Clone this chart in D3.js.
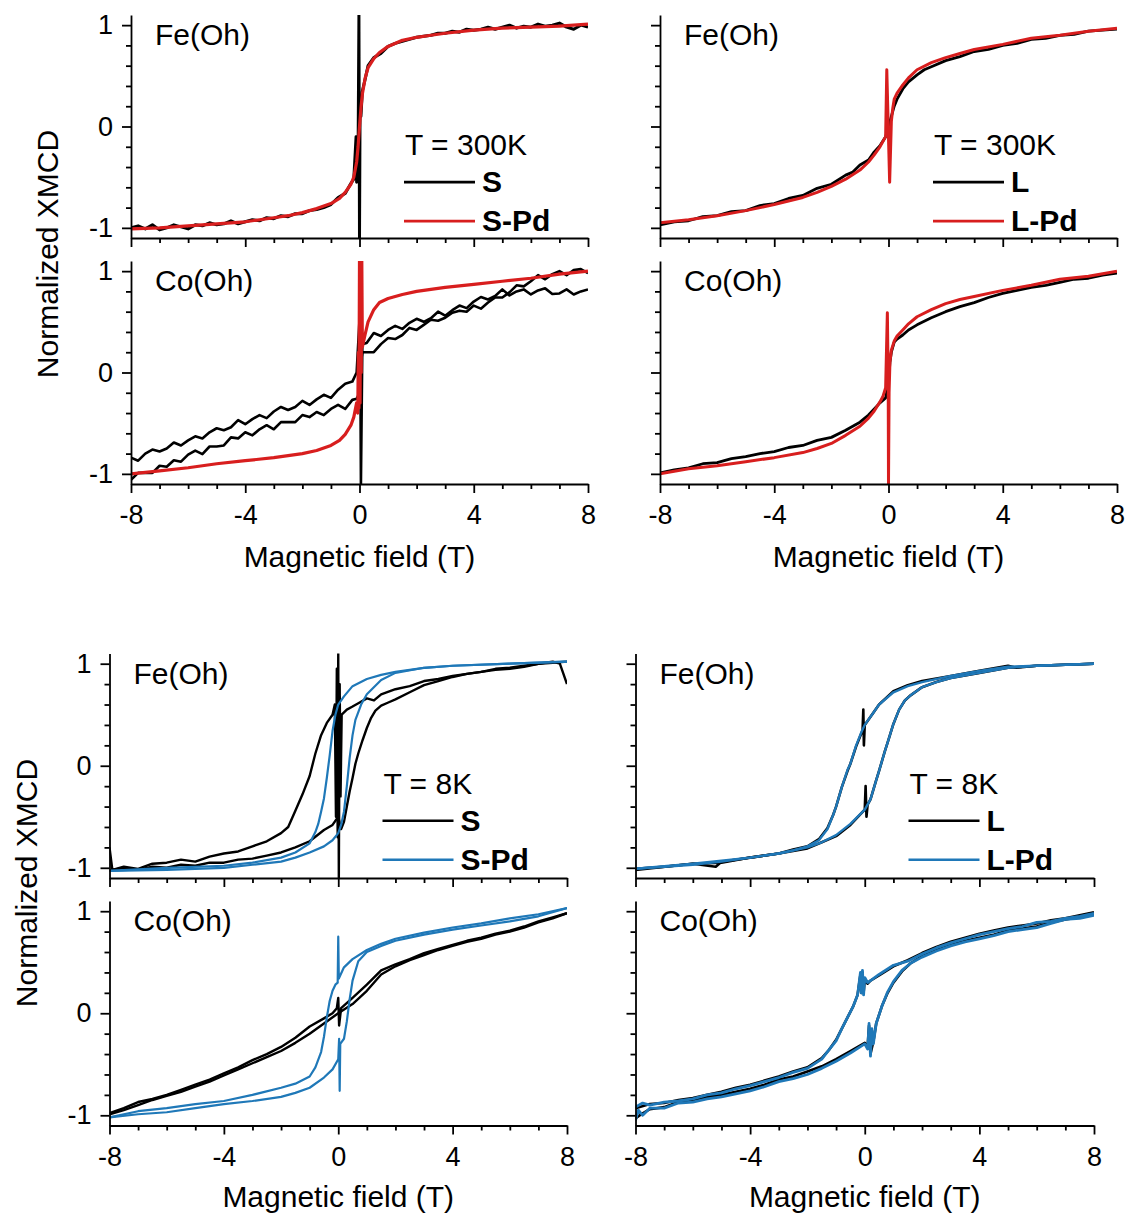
<!DOCTYPE html>
<html><head><meta charset="utf-8">
<script src="https://cdn.jsdelivr.net/npm/d3@7"></script>
<style>body{margin:0;background:#fff}</style>
</head><body><svg id="c" width="1125" height="1219"></svg>
<script>
// ---------------- DATA ----------------
const fieldDomain = [-8, 8];
const xmcdDomain = [-1.1, 1.1];
const fieldTicksMajor = [-8, -4, 0, 4, 8];
const fieldTicksMinor = [-7, -6, -5, -3, -2, -1, 1, 2, 3, 5, 6, 7];
const xmcdTicksMajor = [-1, 0, 1];
const xmcdTicksMinor = [-0.8, -0.6, -0.4, -0.2, 0.2, 0.4, 0.6, 0.8];
const sites = ["Fe(Oh)", "Co(Oh)"];
const temps = ["T = 300K", "T = 8K"];
const samplesS = ["S", "S-Pd"];
const samplesL = ["L", "L-Pd"];
const xLabel = "Magnetic field (T)";
const yLabel = "Normalized XMCD";

// 300 K, Fe, sample S (black) and S-Pd (red)
const fe300_S = [[-8,-1.0],[-7.75,-0.98],[-7.5,-1.01],[-7.25,-0.97],[-7,-1.02],[-6.75,-1.0],[-6.5,-0.97],[-6.25,-0.99],[-6,-1.01],[-5.75,-0.97],[-5.5,-0.98],[-5.25,-0.95],[-5,-0.97],[-4.75,-0.96],[-4.5,-0.93],[-4.25,-0.96],[-4,-0.94],[-3.75,-0.92],[-3.5,-0.93],[-3.25,-0.9],[-3,-0.91],[-2.75,-0.88],[-2.5,-0.89],[-2.25,-0.86],[-2,-0.86],[-1.75,-0.83],[-1.5,-0.82],[-1.25,-0.8],[-1,-0.77],[-0.75,-0.7],[-0.5,-0.66],[-0.3,-0.56],[-0.2,-0.52],[-0.12,-0.1],[-0.1,-0.55],[-0.05,-0.3],[-0.02,1.1],[0,-1.1],[0.02,0.2],[0.05,0.1],[0.1,0.35],[0.2,0.47],[0.3,0.6],[0.5,0.68],[0.75,0.72],[1,0.79],[1.25,0.82],[1.5,0.84],[1.75,0.86],[2,0.88],[2.25,0.89],[2.5,0.9],[2.75,0.92],[3,0.92],[3.25,0.94],[3.5,0.93],[3.75,0.96],[4,0.95],[4.25,0.96],[4.5,0.98],[4.75,0.96],[5,0.98],[5.25,1.0],[5.5,0.97],[5.75,0.99],[6,0.98],[6.25,1.01],[6.5,0.99],[6.75,1.0],[7,1.02],[7.25,0.98],[7.5,0.96],[7.75,1.0],[8,0.98]];
const fe300_SPd = [[-8,-1.01],[-7,-1.0],[-6,-0.98],[-5,-0.96],[-4,-0.94],[-3,-0.9],[-2.5,-0.88],[-2,-0.85],[-1.5,-0.81],[-1,-0.76],[-0.7,-0.71],[-0.5,-0.65],[-0.3,-0.57],[-0.2,-0.5],[-0.1,-0.35],[-0.05,-0.2],[0,0],[0.05,0.18],[0.1,0.32],[0.2,0.48],[0.3,0.58],[0.5,0.67],[0.7,0.73],[1,0.79],[1.5,0.85],[2,0.88],[2.5,0.9],[3,0.92],[4,0.95],[5,0.97],[6,0.98],[7,0.99],[8,1.01]];

// 300 K, Co, sample S (black, two sweeps) and S-Pd (red)
const co300_S1 = [[-8,-0.84],[-7.75,-0.87],[-7.5,-0.8],[-7.25,-0.76],[-7,-0.78],[-6.75,-0.75],[-6.5,-0.69],[-6.25,-0.72],[-6,-0.67],[-5.75,-0.63],[-5.5,-0.65],[-5.25,-0.59],[-5,-0.55],[-4.75,-0.57],[-4.5,-0.54],[-4.25,-0.47],[-4,-0.51],[-3.75,-0.46],[-3.5,-0.42],[-3.25,-0.45],[-3,-0.385],[-2.75,-0.34],[-2.5,-0.37],[-2.25,-0.34],[-2,-0.28],[-1.75,-0.32],[-1.5,-0.265],[-1.25,-0.22],[-1,-0.25],[-0.75,-0.17],[-0.5,-0.11],[-0.25,-0.09],[-0.1,0.0],[0.02,0.62],[0.05,-1.1],[0.1,0.28],[0.25,0.29],[0.5,0.39],[0.75,0.36],[1,0.42],[1.25,0.46],[1.5,0.43],[1.75,0.49],[2,0.53],[2.25,0.5],[2.5,0.535],[2.75,0.6],[3,0.56],[3.25,0.615],[3.5,0.66],[3.75,0.635],[4,0.7],[4.25,0.745],[4.5,0.72],[4.75,0.755],[5,0.82],[5.25,0.76],[5.5,0.8],[5.75,0.82],[6,0.77],[6.25,0.81],[6.5,0.83],[6.75,0.775],[7,0.78],[7.25,0.82],[7.5,0.77],[7.75,0.8],[8,0.82]];
const co300_S2 = [[-8,-1.06],[-7.75,-0.99],[-7.5,-0.99],[-7.25,-0.99],[-7,-0.92],[-6.75,-0.93],[-6.5,-0.865],[-6.25,-0.88],[-6,-0.81],[-5.75,-0.77],[-5.5,-0.805],[-5.25,-0.73],[-5,-0.73],[-4.75,-0.72],[-4.5,-0.64],[-4.25,-0.65],[-4,-0.59],[-3.75,-0.62],[-3.5,-0.56],[-3.25,-0.52],[-3,-0.56],[-2.75,-0.49],[-2.5,-0.49],[-2.25,-0.49],[-2,-0.42],[-1.75,-0.44],[-1.5,-0.39],[-1.25,-0.42],[-1,-0.36],[-0.75,-0.32],[-0.5,-0.36],[-0.25,-0.27],[-0.1,-0.26],[0,-0.2],[0.05,0.1],[0.1,0.2],[0.25,0.2],[0.5,0.2],[0.75,0.28],[1,0.34],[1.25,0.33],[1.5,0.37],[1.75,0.44],[2,0.42],[2.25,0.47],[2.5,0.52],[2.75,0.51],[3,0.54],[3.25,0.59],[3.5,0.61],[3.75,0.6],[4,0.66],[4.25,0.63],[4.5,0.69],[4.75,0.74],[5,0.74],[5.25,0.79],[5.5,0.86],[5.75,0.85],[6,0.9],[6.25,0.96],[6.5,0.92],[6.75,0.97],[7,1.0],[7.25,0.96],[7.5,1.01],[7.75,1.02],[8,0.98]];
const co300_SPd = [[-8,-1.0],[-7,-0.97],[-6,-0.94],[-5,-0.9],[-4,-0.87],[-3,-0.84],[-2,-0.8],[-1.5,-0.77],[-1,-0.72],[-0.7,-0.67],[-0.5,-0.61],[-0.3,-0.52],[-0.2,-0.44],[-0.1,-0.3],[-0.06,-0.4],[-0.04,0.2],[-0.02,-0.35],[0,1.1],[0.02,-0.3],[0.04,1.1],[0.06,0.0],[0.08,1.1],[0.1,0.25],[0.2,0.38],[0.3,0.5],[0.5,0.62],[0.7,0.69],[1,0.73],[1.5,0.77],[2,0.8],[3,0.84],[4,0.87],[5,0.9],[6,0.93],[7,0.97],[8,1.0]];

// 300 K, Fe, sample L (black) and L-Pd (red)
const fe300_L = [[-8,-0.97],[-7.5,-0.94],[-7,-0.93],[-6.5,-0.89],[-6,-0.88],[-5.5,-0.84],[-5,-0.83],[-4.5,-0.78],[-4,-0.76],[-3.5,-0.71],[-3,-0.68],[-2.5,-0.61],[-2,-0.57],[-1.5,-0.48],[-1.25,-0.45],[-1,-0.38],[-0.7,-0.33],[-0.5,-0.25],[-0.3,-0.19],[-0.1,-0.1],[0,0.0],[0.1,0.1],[0.2,0.2],[0.3,0.27],[0.5,0.37],[0.7,0.44],[1,0.51],[1.25,0.56],[1.5,0.59],[2,0.65],[2.5,0.69],[3,0.74],[3.5,0.76],[4,0.8],[4.5,0.82],[5,0.86],[5.5,0.87],[6,0.9],[6.5,0.91],[7,0.94],[7.5,0.95],[8,0.96]];
const fe300_LPd = [[-8,-0.95],[-7,-0.92],[-6,-0.88],[-5,-0.83],[-4,-0.77],[-3,-0.7],[-2.5,-0.65],[-2,-0.59],[-1.5,-0.52],[-1,-0.43],[-0.7,-0.35],[-0.5,-0.28],[-0.3,-0.2],[-0.1,-0.1],[-0.06,0.56],[0.04,-0.55],[0.1,0.05],[0.15,0.18],[0.2,0.27],[0.3,0.33],[0.5,0.41],[0.7,0.48],[1,0.56],[1.5,0.63],[2,0.68],[2.5,0.72],[3,0.76],[4,0.81],[5,0.87],[6,0.9],[7,0.94],[8,0.97]];

// 300 K, Co, sample L (black) and L-Pd (red)
const co300_L = [[-8,-0.99],[-7.5,-0.96],[-7,-0.94],[-6.5,-0.9],[-6,-0.89],[-5.5,-0.85],[-5,-0.83],[-4.5,-0.8],[-4,-0.78],[-3.5,-0.74],[-3,-0.72],[-2.5,-0.67],[-2,-0.64],[-1.5,-0.57],[-1,-0.49],[-0.7,-0.42],[-0.5,-0.36],[-0.3,-0.3],[-0.1,-0.25],[0,-0.1],[0.05,0.1],[0.1,0.2],[0.2,0.3],[0.3,0.33],[0.5,0.37],[0.7,0.42],[1,0.47],[1.5,0.54],[2,0.6],[2.5,0.65],[3,0.69],[3.5,0.74],[4,0.78],[4.5,0.81],[5,0.84],[5.5,0.86],[6,0.89],[6.5,0.92],[7,0.93],[7.5,0.96],[8,0.98]];
const co300_LPd = [[-8,-1.0],[-7,-0.95],[-6,-0.92],[-5,-0.88],[-4,-0.84],[-3,-0.79],[-2.5,-0.75],[-2,-0.7],[-1.5,-0.62],[-1,-0.53],[-0.7,-0.45],[-0.5,-0.38],[-0.3,-0.29],[-0.2,-0.24],[-0.1,-0.15],[-0.04,0.59],[-0.01,-0.1],[0,-1.1],[0.02,-0.2],[0.05,0.1],[0.1,0.22],[0.2,0.31],[0.3,0.36],[0.5,0.42],[0.7,0.48],[1,0.55],[1.5,0.62],[2,0.68],[2.5,0.72],[3,0.75],[4,0.81],[5,0.86],[6,0.92],[7,0.95],[8,1.0]];

// 8 K, Fe, sample S (black) and S-Pd (blue); down = field sweep 8 -> -8, up = -8 -> 8
const fe8_S_down = [[-8,-0.8],[-7.9,-1.02],[-7.5,-0.99],[-7,-1.01],[-6.5,-0.96],[-6,-0.95],[-5.5,-0.92],[-5,-0.94],[-4.5,-0.89],[-4,-0.86],[-3.5,-0.84],[-3,-0.79],[-2.5,-0.74],[-2,-0.66],[-1.75,-0.6],[-1.5,-0.44],[-1.25,-0.28],[-1,-0.1],[-0.8,0.12],[-0.6,0.3],[-0.4,0.42],[-0.2,0.5],[-0.12,0.6],[-0.08,-0.5],[-0.05,0.95],[-0.02,-0.7],[0,1.1],[0.02,-1.1],[0.05,0.8],[0.08,-0.3],[0.12,0.5],[0.3,0.55],[0.5,0.58],[0.75,0.62],[1,0.66],[1.25,0.64],[1.5,0.7],[2,0.75],[2.5,0.78],[3,0.83],[3.5,0.85],[4,0.88],[4.5,0.9],[5,0.92],[5.5,0.94],[6,0.95],[6.5,0.97],[7,1.0],[7.5,1.02],[7.75,1.0],[8,0.8]];
const fe8_S_up = [[-8,-1.03],[-7.5,-1.0],[-7,-1.02],[-6.5,-0.99],[-6,-1.0],[-5.5,-0.97],[-5,-0.98],[-4.5,-0.95],[-4,-0.95],[-3.5,-0.92],[-3,-0.91],[-2.5,-0.88],[-2,-0.85],[-1.5,-0.8],[-1,-0.74],[-0.5,-0.63],[-0.2,-0.58],[0,-0.5],[0.1,-0.62],[0.2,-0.55],[0.3,-0.4],[0.4,-0.25],[0.5,-0.12],[0.6,0.02],[0.7,0.12],[0.85,0.25],[1,0.37],[1.15,0.47],[1.3,0.54],[1.5,0.59],[1.75,0.62],[2,0.65],[2.5,0.72],[3,0.79],[3.5,0.83],[4,0.87],[4.5,0.9],[5,0.92],[5.5,0.95],[6,0.96],[6.5,0.98],[7,1.0],[7.5,1.01],[8,1.02]];
const fe8_SPd_down = [[-8,-1.03],[-6,-1.0],[-4,-0.98],[-3,-0.95],[-2,-0.9],[-1.5,-0.85],[-1,-0.76],[-0.8,-0.65],[-0.7,-0.57],[-0.6,-0.45],[-0.5,-0.32],[-0.4,-0.12],[-0.3,0.1],[-0.2,0.34],[-0.1,0.5],[0,0.6],[0.2,0.68],[0.5,0.78],[1,0.85],[1.5,0.89],[2,0.92],[3,0.96],[4,0.98],[6,1.0],[8,1.02]];
const fe8_SPd_up = [[-8,-1.03],[-6,-1.02],[-4,-1.0],[-3,-0.97],[-2,-0.94],[-1.5,-0.9],[-1,-0.85],[-0.5,-0.79],[-0.2,-0.73],[0,-0.66],[0.1,-0.58],[0.2,-0.45],[0.3,-0.2],[0.4,0.08],[0.5,0.3],[0.6,0.45],[0.8,0.6],[1,0.7],[1.5,0.84],[2,0.91],[3,0.96],[4,0.98],[6,1.0],[8,1.02]];

// 8 K, Co, sample S (black) and S-Pd (blue)
const co8_S_down = [[-8,-0.98],[-7.5,-0.93],[-7,-0.87],[-6.5,-0.84],[-6,-0.8],[-5.5,-0.75],[-5,-0.7],[-4.5,-0.65],[-4,-0.59],[-3.5,-0.53],[-3,-0.46],[-2.5,-0.4],[-2,-0.33],[-1.5,-0.24],[-1,-0.13],[-0.5,-0.05],[-0.2,0.0],[-0.05,0.05],[0,0.15],[0.03,-0.12],[0.1,0.05],[0.5,0.15],[1,0.28],[1.5,0.42],[2,0.48],[2.5,0.53],[3,0.59],[3.5,0.63],[4,0.67],[4.5,0.71],[5,0.74],[5.5,0.78],[6,0.81],[6.5,0.85],[7,0.9],[7.5,0.94],[8,0.98]];
const co8_S_up = [[-8,-0.99],[-7.5,-0.95],[-7,-0.9],[-6.5,-0.85],[-6,-0.81],[-5.5,-0.77],[-5,-0.72],[-4.5,-0.67],[-4,-0.61],[-3.5,-0.55],[-3,-0.49],[-2.5,-0.43],[-2,-0.37],[-1.5,-0.29],[-1,-0.2],[-0.5,-0.1],[0,0.0],[0.5,0.09],[1,0.22],[1.5,0.38],[2,0.46],[2.5,0.52],[3,0.57],[3.5,0.62],[4,0.66],[4.5,0.7],[5,0.73],[5.5,0.77],[6,0.8],[6.5,0.84],[7,0.89],[7.5,0.93],[8,0.98]];
const co8_SPd_down = [[-8,-1.02],[-7,-0.96],[-6,-0.93],[-5,-0.89],[-4,-0.86],[-3,-0.8],[-2,-0.73],[-1.5,-0.69],[-1,-0.62],[-0.8,-0.53],[-0.6,-0.38],[-0.5,-0.23],[-0.4,-0.04],[-0.3,0.12],[-0.2,0.22],[-0.1,0.28],[-0.02,0.3],[0,0.75],[0.02,0.34],[0.2,0.45],[0.5,0.53],[1,0.62],[1.5,0.68],[2,0.73],[3,0.79],[4,0.84],[5,0.88],[6,0.93],[7,0.97],[8,1.03]];
const co8_SPd_up = [[-8,-1.02],[-7,-0.99],[-6,-0.97],[-5,-0.93],[-4,-0.89],[-3,-0.86],[-2,-0.82],[-1.5,-0.78],[-1,-0.73],[-0.5,-0.63],[-0.2,-0.55],[0,-0.45],[0.03,-0.25],[0.05,-0.76],[0.07,-0.3],[0.2,-0.25],[0.3,-0.08],[0.4,0.14],[0.5,0.32],[0.7,0.51],[1,0.6],[1.5,0.66],[2,0.71],[3,0.77],[4,0.82],[5,0.86],[6,0.9],[7,0.95],[8,1.03]];

// 8 K, Fe, sample L (black) and L-Pd (blue)
const fe8_L_down = [[-8,-1.01],[-7,-0.99],[-6,-0.96],[-5,-0.95],[-4,-0.9],[-3,-0.86],[-2.5,-0.82],[-2,-0.79],[-1.6,-0.72],[-1.3,-0.61],[-1.1,-0.48],[-1,-0.4],[-0.8,-0.21],[-0.6,-0.05],[-0.5,0.02],[-0.3,0.19],[-0.1,0.33],[-0.08,0.32],[-0.05,0.55],[-0.03,0.2],[0,0.4],[0.3,0.52],[0.5,0.6],[1,0.73],[1.5,0.79],[2,0.83],[3,0.88],[4,0.93],[5,0.98],[5.3,0.96],[6,0.98],[7,0.99],[8,1.0]];
const fe8_L_up = [[-8,-1.02],[-6,-0.96],[-5.2,-0.99],[-5,-0.94],[-4,-0.9],[-3,-0.86],[-2,-0.81],[-1.5,-0.75],[-1,-0.69],[-0.5,-0.58],[0,-0.43],[0.03,-0.2],[0.06,-0.5],[0.1,-0.38],[0.2,-0.33],[0.4,-0.14],[0.5,-0.05],[0.7,0.14],[0.8,0.23],[1,0.41],[1.2,0.55],[1.4,0.64],[1.6,0.69],[2,0.77],[2.5,0.82],[3,0.86],[4,0.91],[5,0.96],[6,0.98],[7,0.99],[8,1.0]];
const fe8_LPd_down = [[-8,-1.01],[-7,-0.99],[-6,-0.97],[-5,-0.94],[-4,-0.9],[-3,-0.86],[-2.5,-0.83],[-2,-0.79],[-1.6,-0.73],[-1.3,-0.62],[-1.1,-0.48],[-1,-0.4],[-0.8,-0.21],[-0.6,-0.04],[-0.5,0.02],[-0.3,0.2],[-0.1,0.34],[0,0.4],[0.3,0.52],[0.5,0.6],[1,0.72],[1.5,0.78],[2,0.82],[3,0.88],[4,0.93],[5,0.97],[6,0.98],[7,0.99],[8,1.0]];
const fe8_LPd_up = [[-8,-1.01],[-6,-0.96],[-5,-0.93],[-4,-0.9],[-3,-0.86],[-2,-0.8],[-1.5,-0.75],[-1,-0.68],[-0.5,-0.57],[0,-0.43],[0.2,-0.33],[0.4,-0.14],[0.5,-0.05],[0.7,0.14],[0.8,0.23],[1,0.41],[1.2,0.55],[1.4,0.64],[1.6,0.69],[2,0.77],[2.5,0.82],[3,0.86],[4,0.91],[5,0.96],[6,0.98],[7,0.99],[8,1.0]];

// 8 K, Co, sample L (black) and L-Pd (blue)
const co8_L_down = [[-8,-0.93],[-7.5,-0.89],[-7,-0.88],[-6.5,-0.85],[-6,-0.83],[-5.5,-0.8],[-5,-0.77],[-4.5,-0.73],[-4,-0.7],[-3.5,-0.66],[-3,-0.62],[-2.5,-0.57],[-2,-0.53],[-1.5,-0.44],[-1.25,-0.36],[-1,-0.26],[-0.8,-0.15],[-0.6,-0.04],[-0.4,0.07],[-0.25,0.18],[-0.15,0.38],[-0.12,0.2],[-0.08,0.4],[-0.04,0.2],[0,0.33],[0.1,0.29],[0.2,0.32],[0.5,0.37],[1,0.46],[1.5,0.52],[2,0.59],[2.5,0.65],[3,0.7],[3.5,0.74],[4,0.78],[4.5,0.81],[5,0.84],[5.5,0.86],[6,0.88],[6.5,0.91],[7,0.93],[7.5,0.96],[8,0.99]];
const co8_L_up = [[-8,-1.03],[-7.75,-0.98],[-7.5,-0.94],[-7,-0.92],[-6.5,-0.87],[-6,-0.85],[-5.5,-0.82],[-5,-0.8],[-4.5,-0.77],[-4,-0.74],[-3.5,-0.7],[-3,-0.65],[-2.5,-0.62],[-2,-0.57],[-1.5,-0.52],[-1,-0.45],[-0.5,-0.37],[0,-0.29],[0.1,-0.33],[0.15,-0.12],[0.2,-0.4],[0.3,-0.28],[0.4,-0.1],[0.6,0.07],[0.8,0.2],[1,0.3],[1.3,0.41],[1.6,0.49],[2,0.56],[2.5,0.62],[3,0.67],[3.5,0.71],[4,0.74],[4.5,0.77],[5,0.81],[5.5,0.83],[6,0.85],[6.5,0.89],[7,0.92],[7.5,0.94],[8,0.97]];
const co8_LPd_down = [[-8,-0.92],[-7.75,-0.88],[-7.5,-0.9],[-7,-0.87],[-6.5,-0.86],[-6,-0.84],[-5.5,-0.8],[-5,-0.78],[-4.5,-0.74],[-4,-0.71],[-3.5,-0.67],[-3,-0.63],[-2.5,-0.58],[-2,-0.54],[-1.5,-0.45],[-1.25,-0.36],[-1,-0.27],[-0.8,-0.15],[-0.6,-0.04],[-0.4,0.07],[-0.25,0.18],[-0.15,0.4],[-0.12,0.2],[-0.08,0.42],[-0.04,0.18],[0,0.35],[0.1,0.3],[0.2,0.32],[0.5,0.38],[1,0.47],[1.5,0.51],[2,0.58],[2.5,0.64],[3,0.69],[3.5,0.73],[4,0.77],[4.5,0.8],[5,0.83],[5.5,0.85],[6,0.89],[6.5,0.9],[7,0.93],[7.5,0.95],[8,0.98]];
const co8_LPd_up = [[-8,-1.05],[-7.9,-0.95],[-7.75,-1.0],[-7.5,-0.93],[-7,-0.93],[-6.5,-0.88],[-6,-0.87],[-5.5,-0.84],[-5,-0.82],[-4.5,-0.79],[-4,-0.76],[-3.5,-0.72],[-3,-0.67],[-2.5,-0.64],[-2,-0.6],[-1.5,-0.54],[-1,-0.47],[-0.5,-0.39],[0,-0.3],[0.1,-0.35],[0.15,-0.1],[0.2,-0.42],[0.25,-0.15],[0.3,-0.3],[0.4,-0.1],[0.6,0.07],[0.8,0.21],[1,0.31],[1.3,0.42],[1.6,0.49],[2,0.55],[2.5,0.61],[3,0.66],[3.5,0.7],[4,0.73],[4.5,0.76],[5,0.8],[5.5,0.82],[6,0.84],[6.5,0.88],[7,0.92],[7.5,0.93],[8,0.96]];

// ---------------- DRAWING ----------------
const FONT = '"Liberation Sans", Arial, Helvetica, sans-serif';
const BLACK = "#000000", RED = "#d81e1e", BLUE = "#1f78b8";
const svg = d3.select("#c");

// layout: [x0, x1, yTop, yBottom]
const L = {
  tlFe: [131, 588, 15, 238], tlCo: [131, 588, 261, 484],
  trFe: [660, 1117, 15, 238], trCo: [660, 1117, 261, 484],
  blFe: [109.5, 567, 653.5, 878], blCo: [109.5, 567, 901, 1125.5],
  brFe: [635.5, 1094, 653.5, 878], brCo: [635.5, 1094, 901, 1125.5]
};

let clipId = 0;
function panel(box, opts) {
  const [x0, x1, yt, yb] = box;
  const x = d3.scaleLinear().domain(fieldDomain).range([x0, x1]);
  const y = d3.scaleLinear().domain(xmcdDomain).range([yb, yt]);
  const id = "clip" + (clipId++);
  svg.append("clipPath").attr("id", id).append("rect")
    .attr("x", x0).attr("y", yt).attr("width", x1 - x0).attr("height", yb - yt);
  const line = d3.line().x(d => x(d[0])).y(d => y(d[1]));
  const g = svg.append("g").attr("clip-path", `url(#${id})`);
  opts.curves.forEach(c => {
    g.append("path").attr("d", line(c.data)).attr("fill", "none")
      .attr("stroke", c.color).attr("stroke-width", c.w)
      .attr("stroke-linejoin", "round");
  });

  const styleAxis = sel => {
    sel.attr("font-family", FONT).attr("font-size", 27);
    sel.selectAll("line,path").attr("stroke", "#000").attr("stroke-width", 1.8);
    sel.selectAll("text").attr("fill", "#000");
  };
  const ym = svg.append("g").attr("transform", `translate(${x0},0)`)
    .call(d3.axisLeft(y).tickValues(xmcdTicksMinor).tickSize(5).tickSizeOuter(0).tickFormat(""));
  ym.select(".domain").remove(); styleAxis(ym);
  const yM = svg.append("g").attr("transform", `translate(${x0},0)`)
    .call(d3.axisLeft(y).tickValues(xmcdTicksMajor).tickSize(9).tickSizeOuter(0).tickPadding(9)
      .tickFormat(opts.yLabels ? d => String(d) : ""));
  styleAxis(yM);
  const xm = svg.append("g").attr("transform", `translate(0,${yb})`)
    .call(d3.axisBottom(x).tickValues(fieldTicksMinor).tickSize(5).tickSizeOuter(0).tickFormat(""));
  xm.select(".domain").remove(); styleAxis(xm);
  const xM = svg.append("g").attr("transform", `translate(0,${yb})`)
    .call(d3.axisBottom(x).tickValues(fieldTicksMajor).tickSize(9).tickSizeOuter(0).tickPadding(12)
      .tickFormat(opts.xLabels ? d => String(d) : ""));
  styleAxis(xM);

  svg.append("text").attr("x", x0 + 24).attr("y", y(1) + 20)
    .attr("font-family", FONT).attr("font-size", 30).text(opts.label);

  if (opts.legend) {
    const lx = x0 + 274, ly = y(1);
    svg.append("text").attr("x", lx).attr("y", ly + 130)
      .attr("font-family", FONT).attr("font-size", 30).text(opts.legend.title);
    opts.legend.items.forEach((it, i) => {
      const yy = ly + 157 + i * 39;
      svg.append("line").attr("x1", lx - 1).attr("x2", lx + 70).attr("y1", yy).attr("y2", yy)
        .attr("stroke", it.color).attr("stroke-width", 2.6);
      svg.append("text").attr("x", lx + 77).attr("y", yy + 10)
        .attr("font-family", FONT).attr("font-size", 30).attr("font-weight", "bold").text(it.name);
    });
  }
  return {x, y};
}

function xTitle(box, by) {
  svg.append("text").attr("x", (box[0] + box[1]) / 2).attr("y", by)
    .attr("text-anchor", "middle").attr("font-family", FONT).attr("font-size", 30).text(xLabel);
}
function yTitle(bx, cy) {
  svg.append("text").attr("transform", `translate(${bx},${cy}) rotate(-90)`)
    .attr("text-anchor", "middle").attr("font-family", FONT).attr("font-size", 30).text(yLabel);
}

// ---- 300 K ----
panel(L.tlFe, {label: sites[0], yLabels: true, xLabels: false,
  curves: [{data: fe300_S, color: BLACK, w: 3}, {data: fe300_SPd, color: RED, w: 3.2}],
  legend: {title: temps[0], items: [{name: samplesS[0], color: BLACK}, {name: samplesS[1], color: RED}]}});
panel(L.tlCo, {label: sites[1], yLabels: true, xLabels: true,
  curves: [{data: co300_S1, color: BLACK, w: 2.6}, {data: co300_S2, color: BLACK, w: 2.6}, {data: co300_SPd, color: RED, w: 3.2}]});
panel(L.trFe, {label: sites[0], yLabels: false, xLabels: false,
  curves: [{data: fe300_L, color: BLACK, w: 2.8}, {data: fe300_LPd, color: RED, w: 3}],
  legend: {title: temps[0], items: [{name: samplesL[0], color: BLACK}, {name: samplesL[1], color: RED}]}});
panel(L.trCo, {label: sites[1], yLabels: false, xLabels: true,
  curves: [{data: co300_L, color: BLACK, w: 2.8}, {data: co300_LPd, color: RED, w: 3}]});

// ---- 8 K ----
panel(L.blFe, {label: sites[0], yLabels: true, xLabels: false,
  curves: [{data: fe8_S_down, color: BLACK, w: 2.4}, {data: fe8_S_up, color: BLACK, w: 2.4},
           {data: fe8_SPd_down, color: BLUE, w: 2.2}, {data: fe8_SPd_up, color: BLUE, w: 2.2}],
  legend: {title: temps[1], items: [{name: samplesS[0], color: BLACK}, {name: samplesS[1], color: BLUE}]}});
panel(L.blCo, {label: sites[1], yLabels: true, xLabels: true,
  curves: [{data: co8_S_down, color: BLACK, w: 2.4}, {data: co8_S_up, color: BLACK, w: 2.4},
           {data: co8_SPd_down, color: BLUE, w: 2.2}, {data: co8_SPd_up, color: BLUE, w: 2.2}]});
panel(L.brFe, {label: sites[0], yLabels: false, xLabels: false,
  curves: [{data: fe8_L_down, color: BLACK, w: 2.6}, {data: fe8_L_up, color: BLACK, w: 2.6},
           {data: fe8_LPd_down, color: BLUE, w: 2.4}, {data: fe8_LPd_up, color: BLUE, w: 2.4}],
  legend: {title: temps[1], items: [{name: samplesL[0], color: BLACK}, {name: samplesL[1], color: BLUE}]}});
panel(L.brCo, {label: sites[1], yLabels: false, xLabels: true,
  curves: [{data: co8_L_down, color: BLACK, w: 2.6}, {data: co8_L_up, color: BLACK, w: 2.6},
           {data: co8_LPd_down, color: BLUE, w: 2.8}, {data: co8_LPd_up, color: BLUE, w: 2.8}]});

xTitle(L.tlCo, 567); xTitle(L.trCo, 567);
xTitle(L.blCo, 1207); xTitle(L.brCo, 1207);
yTitle(58, 254); yTitle(36.5, 883);
</script>
</body></html>
